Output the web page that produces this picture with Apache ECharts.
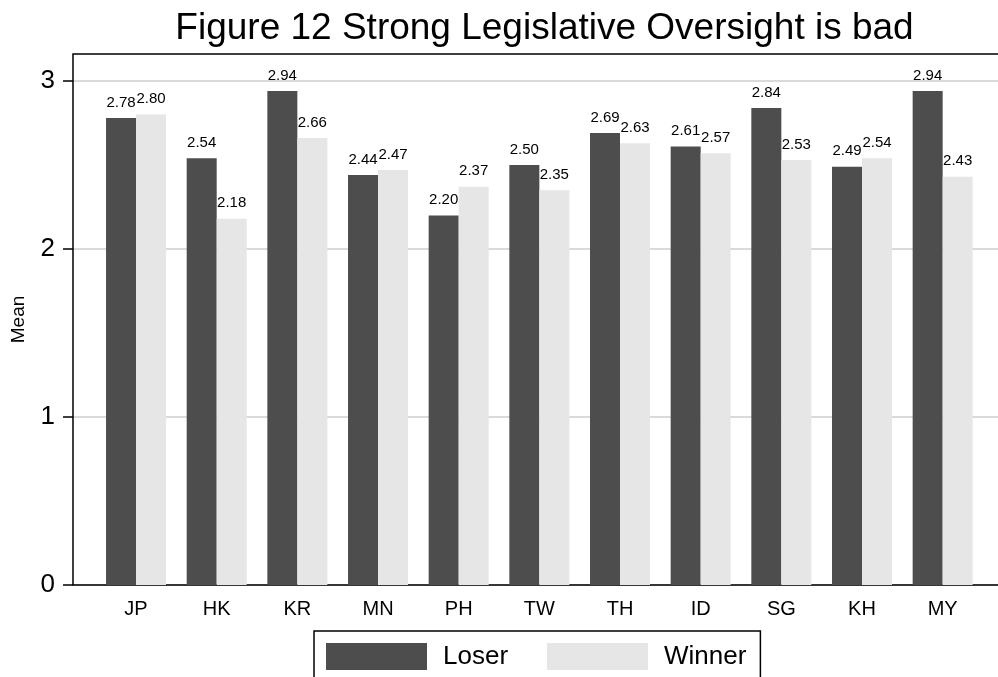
<!DOCTYPE html>
<html>
<head>
<meta charset="utf-8">
<script src="https://cdn.jsdelivr.net/npm/echarts@6/dist/echarts.min.js"></script>
<style>
  html, body { margin: 0; padding: 0; background: #fff; }
  #chart { width: 998px; height: 677px; }
</style>
</head>
<body>
<div id="chart"></div>
<script>
// data
var countries = ["JP", "HK", "KR", "MN", "PH", "TW", "TH", "ID", "SG", "KH", "MY"];
var loser = [2.78, 2.54, 2.94, 2.44, 2.20, 2.50, 2.69, 2.61, 2.84, 2.49, 2.94];
var winner = [2.80, 2.18, 2.66, 2.47, 2.37, 2.35, 2.63, 2.57, 2.53, 2.54, 2.43];
var yTicks = [0, 1, 2, 3];

var font = "Liberation Sans, Arial, sans-serif";
var myChart = echarts.init(document.getElementById("chart"));

var barLabel = {
  show: true,
  position: "top",
  distance: 8,
  fontSize: 15,
  fontFamily: font,
  color: "#000",
  formatter: function (p) { return p.value.toFixed(2); }
};

myChart.setOption({
  animation: false,
  backgroundColor: "#fff",
  textStyle: { fontFamily: font },
  title: {
    text: "Figure 12 Strong Legislative Oversight is bad",
    left: 539.5,
    textAlign: "center",
    top: 5,
    textStyle: { fontSize: 37, fontWeight: "normal", color: "#000", fontFamily: font }
  },
  legend: {
    data: ["Loser", "Winner"],
    left: 314,
    top: 631,
    itemWidth: 101,
    itemHeight: 27,
    itemGap: 39,
    padding: [12, 14, 12, 12],
    borderColor: "#000",
    borderWidth: 1.5,
    icon: "rect",
    textStyle: { fontSize: 26, color: "#000", fontFamily: font, padding: [0, 0, 0, 11] }
  },
  // plot region outline: left and top sides (right side is cut off in the figure)
  graphic: [
    {
      type: "polyline",
      shape: { points: [[73, 585], [73, 54], [1010, 54]] },
      style: { stroke: "#000", lineWidth: 1.5, fill: null },
      z: 10
    }
  ],
  grid: [
    // holds the y title only
    { left: 73, right: 0, top: 54, bottom: 92 },
    // y scale, gridlines, bottom line
    { left: 73, right: 0, top: 81, bottom: 92 },
    // bars
    { left: 95.7, right: 15, top: 81, bottom: 92 }
  ],
  xAxis: [
    { gridIndex: 0, type: "value", show: false },
    {
      gridIndex: 1, type: "value", min: 0, max: 1,
      axisLine: { show: true, lineStyle: { color: "#000", width: 1.5 } },
      axisTick: { show: false }, axisLabel: { show: false }, splitLine: { show: false }
    },
    {
      gridIndex: 2, type: "category", data: countries,
      axisLine: { show: false }, axisTick: { show: false },
      axisLabel: { fontSize: 20, color: "#000", margin: 14, fontFamily: font }
    }
  ],
  yAxis: [
    {
      gridIndex: 0, type: "value", min: 0, max: 1,
      name: "Mean", nameLocation: "middle", nameGap: 45,
      nameTextStyle: { fontSize: 19, color: "#000", fontFamily: font },
      axisLine: { show: false }, axisTick: { show: false }, axisLabel: { show: false }, splitLine: { show: false }
    },
    {
      gridIndex: 1, type: "value", min: yTicks[0], max: yTicks[yTicks.length - 1], interval: 1,
      axisLine: { show: false },
      axisTick: { show: true, length: 10, lineStyle: { color: "#000", width: 1.5 } },
      axisLabel: { fontSize: 26, color: "#000", margin: 18, fontFamily: font },
      splitLine: { show: true, lineStyle: { color: "#dadada", width: 2 } }
    },
    {
      gridIndex: 2, type: "value", min: yTicks[0], max: yTicks[yTicks.length - 1], show: false
    }
  ],
  series: [
    {
      name: "Loser", type: "bar", xAxisIndex: 2, yAxisIndex: 2,
      data: loser, barGap: "0%", barCategoryGap: "25.6%",
      itemStyle: { color: "#4d4d4d" },
      label: barLabel, z: 1
    },
    {
      name: "Winner", type: "bar", xAxisIndex: 2, yAxisIndex: 2,
      data: winner, barGap: "0%", barCategoryGap: "25.6%",
      itemStyle: { color: "#e6e6e6" },
      label: barLabel, z: 1
    }
  ]
});
</script>
</body>
</html>
